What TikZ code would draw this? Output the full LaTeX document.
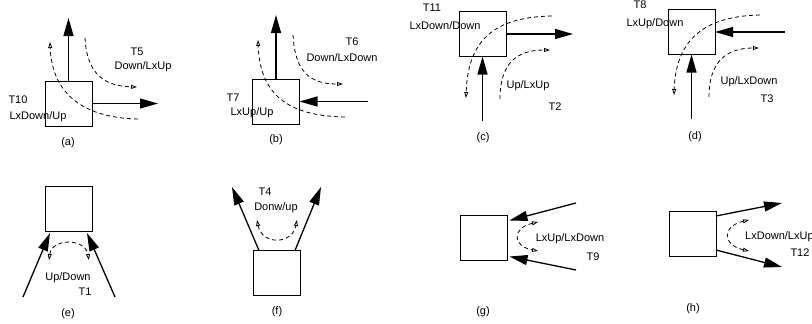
\documentclass[tikz,border=0pt]{standalone}
\usepackage{fontspec}
\setmainfont{Liberation Sans}
\usetikzlibrary{arrows.meta,calc}
\begin{document}
\begin{tikzpicture}[x=1pt,y=-1pt,
  box/.style={draw,line width=1pt,minimum width=47pt,minimum height=45pt,inner sep=0pt,outer sep=0pt},
  big/.style={line width=1.3pt,-{Triangle[length=18pt,width=10pt]}},
  dsh/.style={line width=0.8pt,dash pattern=on 4pt off 3pt,-{Triangle[open,length=6pt,width=4pt]}},
  dsh2/.style={line width=0.8pt,dash pattern=on 4pt off 3pt,{Triangle[open,length=6pt,width=4pt]}-{Triangle[open,length=6pt,width=4pt]}},
  lab/.style={font=\fontsize{11}{13}\selectfont,inner sep=0pt}]
\useasboundingbox (0,0) rectangle (812,324);
% ---- (a)
\node[box] (A) at (68.5,103.5) {};
\coordinate (Au) at (68.5,18);
\coordinate (Ar) at (158,103.5);
\draw[big] (A.north) -- (Au);
\draw[big] (A.east) -- (Ar);
\draw[dsh] (138,119) .. controls (85,118) and (52,95) .. (50,42);
\draw[dsh] (85,38) .. controls (87,75) and (105,86) .. (137,87);
\node[lab] (a5) at (137,52) {T5};
\node[lab] (a5b) at (143,67) {Down/LxUp};
\node[lab] (a10) at (18,100) {T10};
\node[lab] (a10b) at (38,117) {LxDown/Up};
\node[lab] (ca) at (68,143) {(a)};
% ---- (b)
\node[box] (B) at (276,101.5) {};
\coordinate (Bu) at (276,15);
\coordinate (Br) at (368,101.5);
\draw[big] (B.north) -- (Bu);
\draw[big] (Br) -- (B.east);
\draw[dsh] (345,117) .. controls (295,116) and (260,100) .. (258,40);
\draw[dsh] (293,35) .. controls (295,72) and (310,84) .. (343,84);
\node[lab] (b6) at (352,42) {T6};
\node[lab] (b6b) at (342,58) {Down/LxDown};
\node[lab] (b7) at (233,98) {T7};
\node[lab] (b7b) at (252,113) {LxUp/Up};
\node[lab] (cb) at (276,140) {(b)};
% ---- (c)
\node[box] (C) at (482.5,34) {};
\coordinate (Cr) at (573,34);
\coordinate (Cd) at (482.5,121);
\draw[big] (C.east) -- (Cr);
\draw[big] (Cd) -- (C.south);
\draw[dsh] (552,16) .. controls (500,17) and (468,35) .. (466,98);
\draw[dsh] (500,99) .. controls (500,65) and (515,50) .. (550,50);
\node[lab] (c11) at (432,8) {T11};
\node[lab] (c11b) at (445,26) {LxDown/Down};
\node[lab] (c2) at (528,86) {Up/LxUp};
\node[lab] (c2b) at (555,107) {T2};
\node[lab] (cc) at (483,138) {(c)};
% ---- (d)
\node[box] (D) at (691.5,32) {};
\coordinate (Dr) at (785,32);
\coordinate (Dd) at (691.5,119);
\draw[big] (Dr) -- (D.east);
\draw[big] (Dd) -- (D.south);
\draw[dsh] (760,15) .. controls (710,16) and (676,35) .. (674,95);
\draw[dsh] (709,97) .. controls (709,63) and (725,48) .. (759,48);
\node[lab] (d8) at (640,5) {T8};
\node[lab] (d8b) at (655,24) {LxUp/Down};
\node[lab] (d3) at (749,82) {Up/LxDown};
\node[lab] (d3b) at (767,99) {T3};
\node[lab] (cd) at (695,137) {(d)};
% ---- (e)
\node[box] (E) at (68.5,208.5) {};
\coordinate (El) at (23,297);
\coordinate (Er) at (115,297);
\draw[big] (El) -- ($(E.south west)+(5,2)$);
\draw[big] (Er) -- ($(E.south east)+(-5,2)$);
\draw[dsh2] (49,260) .. controls (52,238) and (85,238) .. (89,260);
\node[lab] (e1) at (68,278) {Up/Down};
\node[lab] (e1b) at (85,292) {T1};
\node[lab] (ce) at (68,314) {(e)};
% ---- (f)
\node[box] (F) at (276.5,273) {};
\coordinate (Fl) at (232,187);
\coordinate (Fr) at (321,187);
\draw[big] ($(F.north west)+(6,0)$) -- (Fl);
\draw[big] ($(F.north east)+(-5,0)$) -- (Fr);
\draw[dsh2] (257,220) .. controls (262,245) and (292,245) .. (297,220);
\node[lab] (f4) at (265,192) {T4};
\node[lab] (f4b) at (276,208) {Donw/up};
\node[lab] (cf) at (277,312) {(f)};
% ---- (g)
\node[box] (G) at (484,238) {};
\coordinate (Gu) at (576,203);
\coordinate (Gd) at (576,270);
\draw[big] (Gu) -- ($(G.north east)+(2,5)$);
\draw[big] (Gd) -- ($(G.south east)+(2,-4)$);
\draw[dsh2] (538,222) .. controls (512,228) and (512,246) .. (538,251);
\node[lab] (g9) at (570,239) {LxUp/LxDown};
\node[lab] (g9b) at (593,257) {T9};
\node[lab] (cg) at (483,312) {(g)};
% ---- (h)
\node[box] (H) at (692.5,233.5) {};
\coordinate (Hu) at (782,203);
\coordinate (Hd) at (782,267);
\draw[big] ($(H.north east)+(0,5)$) -- (Hu);
\draw[big] ($(H.south east)+(0,-6)$) -- (Hd);
\draw[dsh2] (749,220) .. controls (722,226) and (722,245) .. (749,251);
\node[lab,anchor=west] (h12) at (745,237) {LxDown/LxUp};
\node[lab] (h12b) at (800,253) {T12};
\node[lab] (ch) at (693,309) {(h)};
\end{tikzpicture}
\end{document}
